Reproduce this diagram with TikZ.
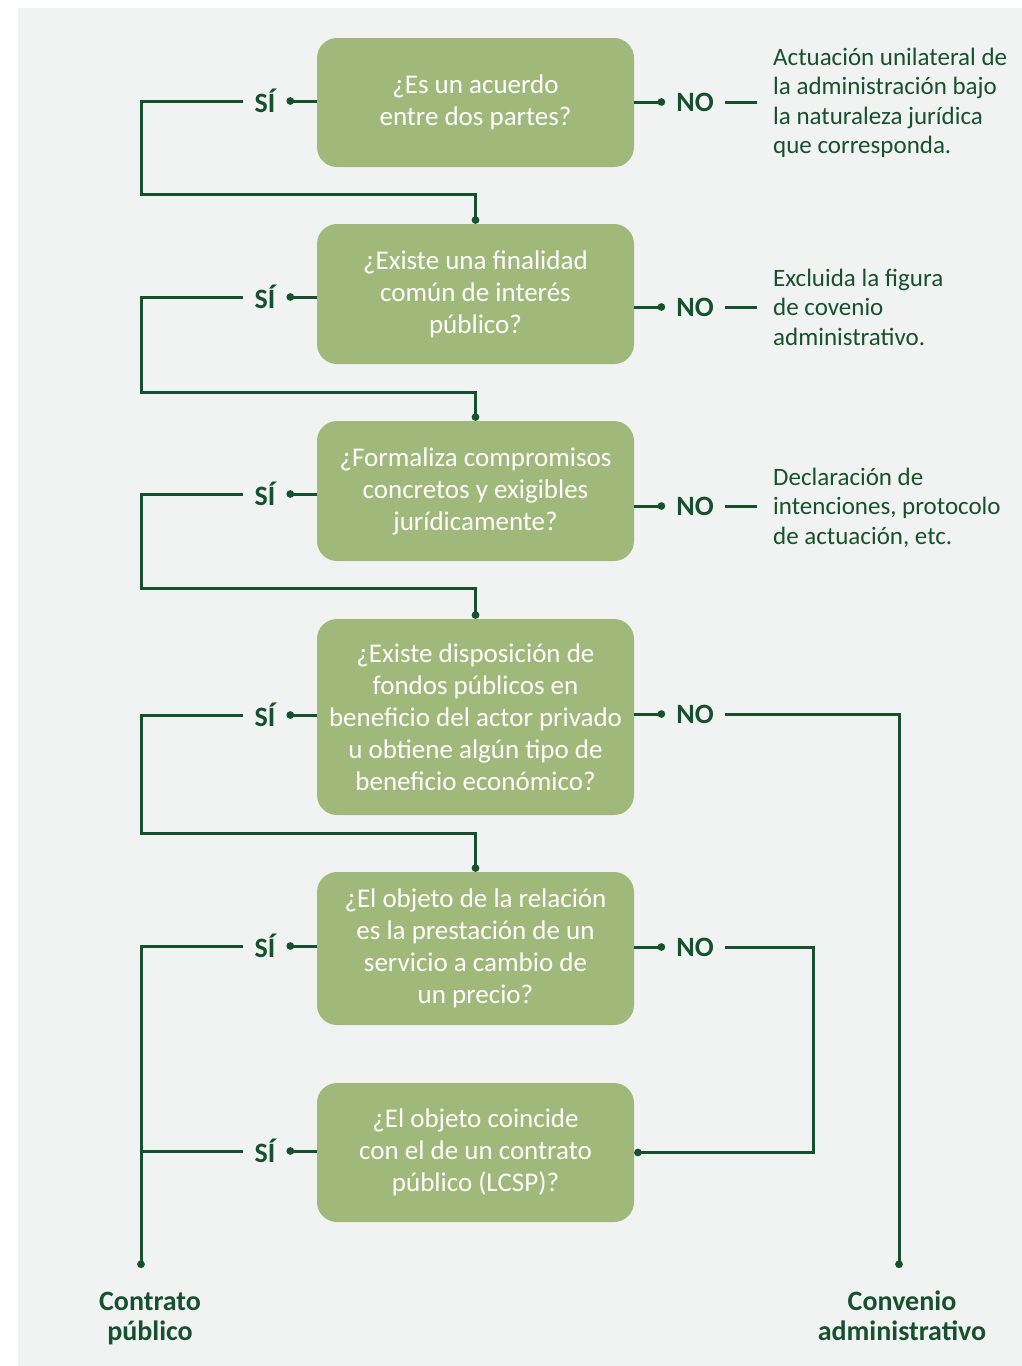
\documentclass[tikz,border=0pt]{standalone}
\usepackage{fontspec}
\setmainfont{Carlito}
\usetikzlibrary{arrows.meta}
\definecolor{fondo}{HTML}{F1F3F2}
\definecolor{caja}{HTML}{A0B97B}
\definecolor{verde}{HTML}{17502F}

\tikzset{
	pregunta/.style={fill=caja, rounded corners=20pt, minimum width=317pt, text width=305pt, inner xsep=6pt, align=flush center, text=white, font=\fontsize{27}{32}\selectfont},
	resp/.style={text=verde, font=\fontsize{28}{30}\selectfont\bfseries, inner xsep=11pt, inner ysep=0pt},
	nota/.style={text=verde, align=left, anchor=west, inner xsep=16pt, inner ysep=0pt, font=\fontsize{25}{29.5}\selectfont},
	final/.style={text=verde, align=flush center, font=\fontsize{28}{30}\selectfont\bfseries},
	linea/.style={draw=verde, line width=3pt},
	punto/.style={-{Circle[length=7.5pt]}},
}

\begin{document}
\begin{tikzpicture}[x=1pt, y=-1pt]
		%%%%% START %%%%%
		\useasboundingbox (0, 0) rectangle (1022, 1366);
		\fill[fondo] (18, 8) rectangle (1022, 1366);
		
		% preguntas
		\node[pregunta, minimum height=129pt] (q1) at (475.5, 102.5) {¿Es un acuerdo\\entre dos partes?};
		\node[pregunta, minimum height=140pt] (q2) at (475.5, 294) {¿Existe una finalidad\\común de interés\\público?};
		\node[pregunta, minimum height=140pt] (q3) at (475.5, 491) {¿Formaliza compromisos\\concretos y exigibles\\jurídicamente?};
		\node[pregunta, minimum height=196pt] (q4) at (475.5, 717) {¿Existe disposición de\\fondos públicos en\\beneficio del actor privado\\u obtiene algún tipo de\\beneficio económico?};
		\node[pregunta, minimum height=153pt] (q5) at (475.5, 948.5) {¿El objeto de la relación\\es la prestación de un\\servicio a cambio de\\un precio?};
		\node[pregunta, minimum height=139pt] (q6) at (475.5, 1152.5) {¿El objeto coincide\\con el de un contrato\\público (LCSP)?};
		
		% SI
		\node[resp] (si1) at (265, 101) {SÍ};
		\node[resp] (si2) at (265, 297) {SÍ};
		\node[resp] (si3) at (265, 494) {SÍ};
		\node[resp] (si4) at (265, 715) {SÍ};
		\node[resp] (si5) at (265, 946) {SÍ};
		\node[resp] (si6) at (265, 1151) {SÍ};
		
		% NO
		\node[resp] (no1) at (695, 102) {NO};
		\node[resp] (no2) at (695, 307) {NO};
		\node[resp] (no3) at (695, 506) {NO};
		\node[resp] (no4) at (695, 714) {NO};
		\node[resp] (no5) at (695, 947) {NO};
		
		% notas
		\node[nota] (r1) at (757, 103) {Actuación unilateral de\\la administración bajo\\la naturaleza jurídica\\que corresponda.};
		\node[nota] (r2) at (757, 307) {Excluida la figura\\de covenio\\administrativo.};
		\node[nota] (r3) at (757, 507.5) {Declaración de\\intenciones, protocolo\\de actuación, etc.};
		
		\coordinate (fin1) at (141, 1268);
		\coordinate (fin2) at (899, 1268);
		\node[final] (contrato) at (150, 1319) {Contrato\\público};
		\node[final] (convenio) at (902, 1316) {Convenio\\administrativo};
		
		% lineas SI
		\draw[linea, punto] (si1.east -| q1.west) -- (si1.east);
		\draw[linea, punto] (si2.east -| q2.west) -- (si2.east);
		\draw[linea, punto] (si3.east -| q3.west) -- (si3.east);
		\draw[linea, punto] (si4.east -| q4.west) -- (si4.east);
		\draw[linea, punto] (si5.east -| q5.west) -- (si5.east);
		\draw[linea, punto] (si6.east -| q6.west) -- (si6.east);
		\draw[linea, punto] (si1.west) -| (141, 194) -| (q2.north);
		\draw[linea, punto] (si2.west) -| (141, 392) -| (q3.north);
		\draw[linea, punto] (si3.west) -| (141, 588) -| (q4.north);
		\draw[linea, punto] (si4.west) -| (141, 833) -| (q5.north);
		\draw[linea, punto] (si5.west) -| (fin1);
		\draw[linea] (si6.west) -- (si6.west -| fin1);
		
		% lineas NO
		\draw[linea, punto] (no1.west -| q1.east) -- (no1.west);
		\draw[linea, punto] (no2.west -| q2.east) -- (no2.west);
		\draw[linea, punto] (no3.west -| q3.east) -- (no3.west);
		\draw[linea, punto] (no4.west -| q4.east) -- (no4.west);
		\draw[linea, punto] (no5.west -| q5.east) -- (no5.west);
		\draw[linea] (no1.east) -- (no1.east -| r1.west);
		\draw[linea] (no2.east) -- (no2.east -| r2.west);
		\draw[linea] (no3.east) -- (no3.east -| r3.west);
		\draw[linea, punto] (no4.east) -| (fin2);
		\draw[linea, punto] (no5.east) -| ([xshift=179pt]q6.east) -- (q6.east);
		
		%%%%% END %%%%%
\end{tikzpicture}
\end{document}
